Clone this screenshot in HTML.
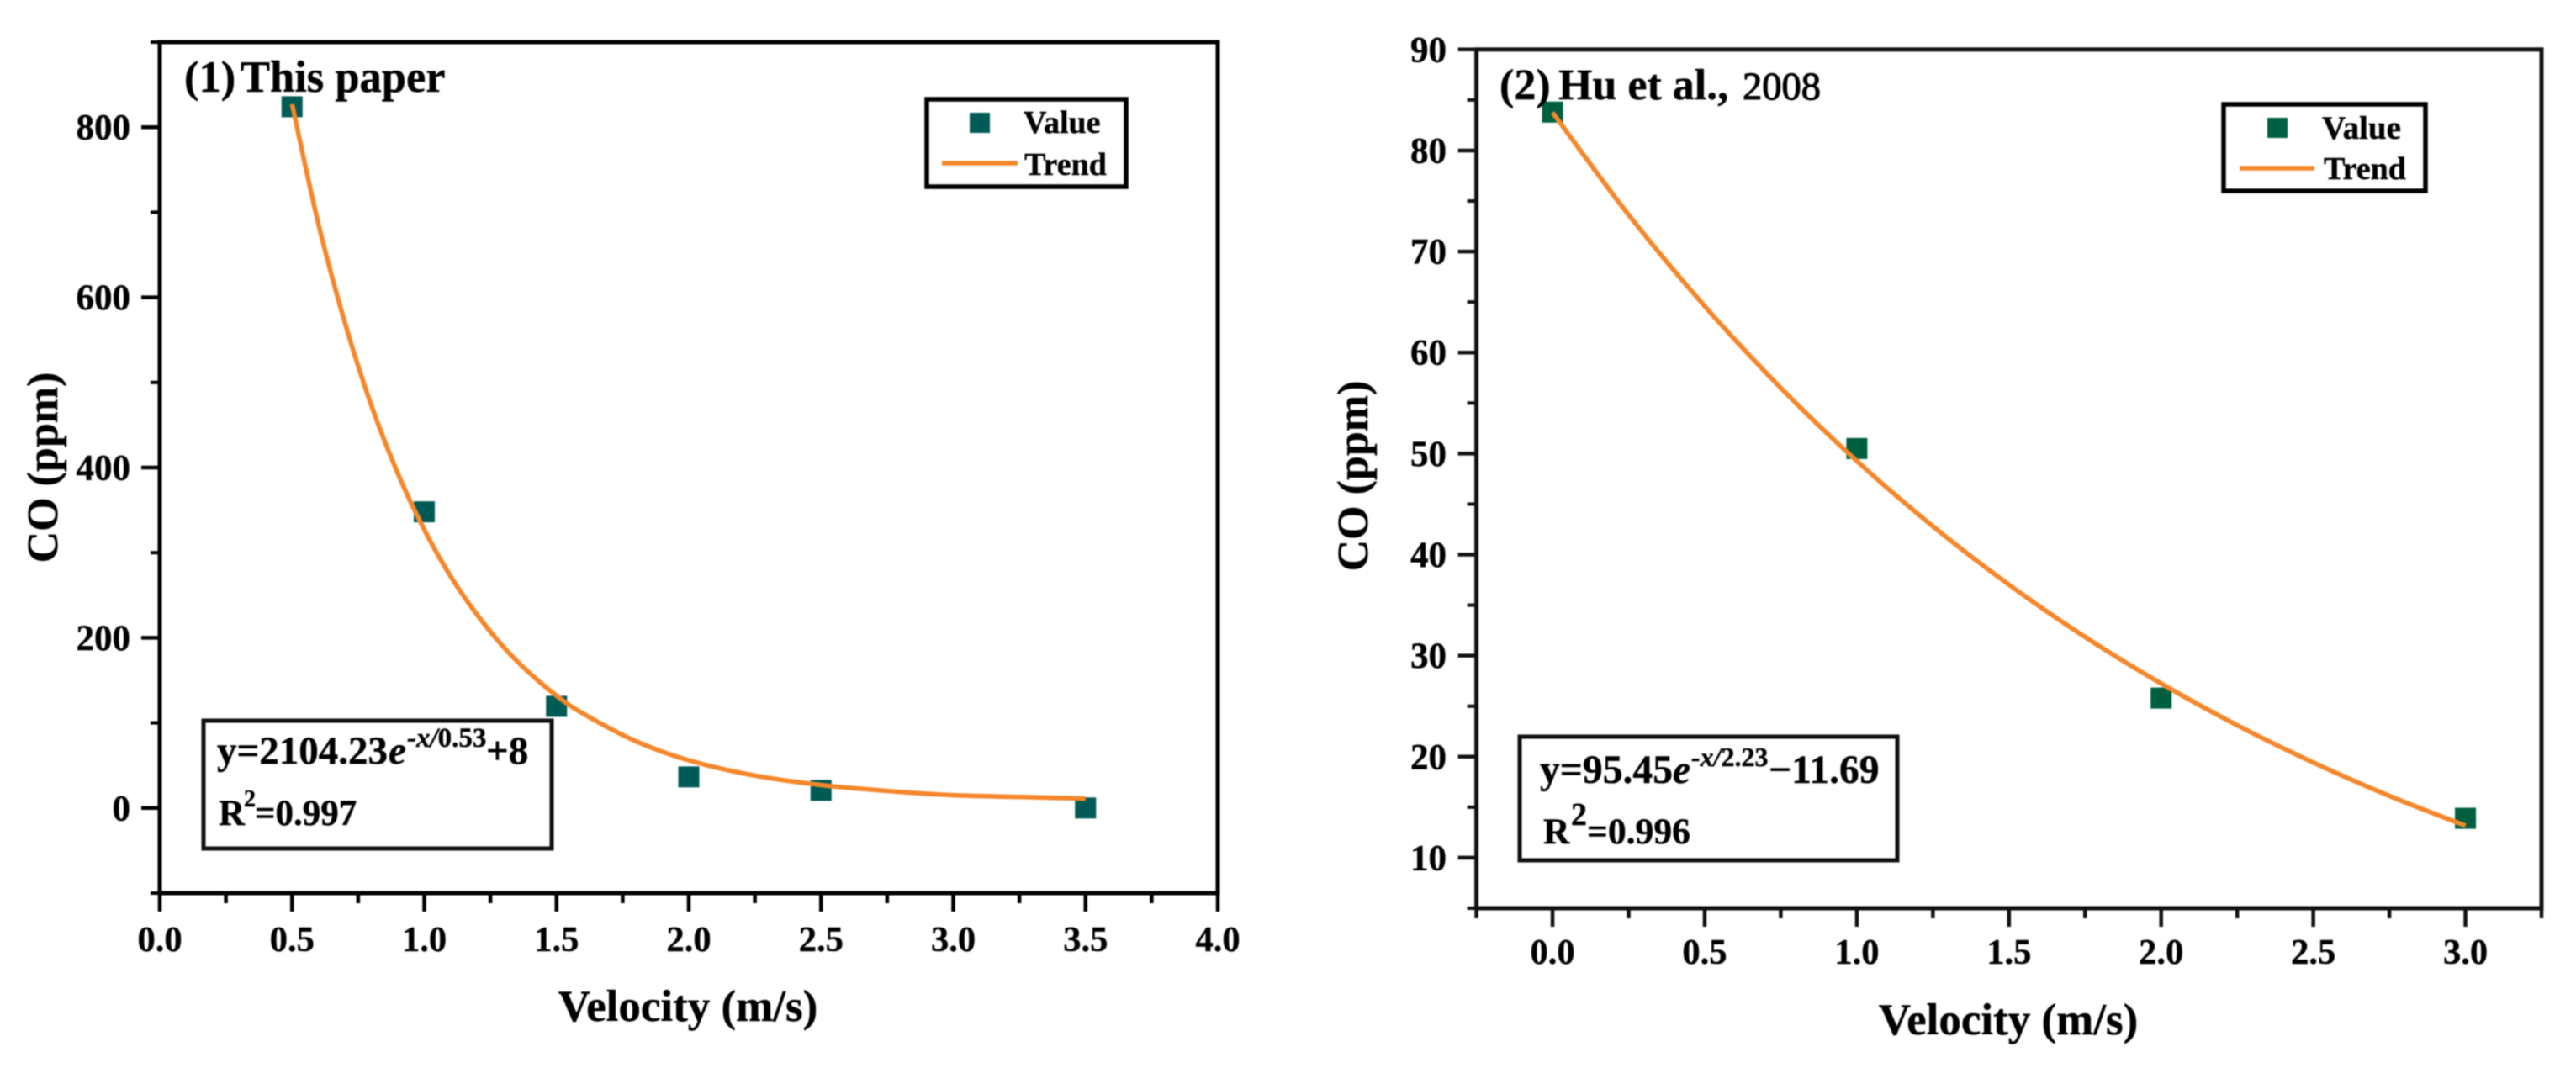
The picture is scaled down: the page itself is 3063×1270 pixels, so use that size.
<!DOCTYPE html>
<html lang="en">
<head>
<meta charset="utf-8">
<title>CO versus velocity charts</title>
<style>
  html, body { margin: 0; padding: 0; background: #fff; }
  body { width: 3063px; height: 1270px; overflow: hidden; }
  svg { display: block; filter: blur(0.8px); }
  text { font-family: "Liberation Serif", serif; font-weight: bold; fill: #000; stroke: #000; stroke-width: 0.4px; }
</style>
</head>
<body>
<svg id="figure" xmlns="http://www.w3.org/2000/svg" width="3063" height="1270" viewBox="0 0 3063 1270">
  <rect x="0" y="0" width="3063" height="1270" fill="#fff"/>

  <g id="panel-one"></g>
  <g id="panel-two"></g>

  <!-- Panel 1 static annotations -->
  <text y="109" font-size="52.5"><tspan x="219">(1)</tspan><tspan x="286">This paper</tspan></text>
  <text x="818" y="1214" font-size="53" text-anchor="middle">Velocity (m/s)</text>
  <text transform="translate(68 556) rotate(-90)" font-size="52" text-anchor="middle">CO (ppm)</text>

  <g>
    <rect x="1102" y="118" width="237" height="104" fill="#fff" stroke="#000" stroke-width="5.5"/>
    <rect x="1153" y="134" width="24" height="24" fill="#005b56"/>
    <line x1="1120" y1="194" x2="1210" y2="194" stroke="#f5862a" stroke-width="5.5"/>
    <text x="1217" y="158" font-size="38">Value</text>
    <text x="1218" y="208" font-size="38">Trend</text>
  </g>

  <g>
    <rect x="242" y="857" width="414" height="152" fill="#fff" stroke="#111" stroke-width="5"/>
    <text y="908" font-size="47"><tspan x="258">y=2104.23</tspan><tspan x="462" font-style="italic">e</tspan><tspan x="484" y="888" font-size="33" font-style="italic">-x/</tspan><tspan font-size="33" y="888">0.53</tspan><tspan x="578" y="908">+8</tspan></text>
    <text y="981" font-size="43"><tspan x="260">R</tspan><tspan x="290" y="959" font-size="28">2</tspan><tspan x="303" y="981">=0.997</tspan></text>
  </g>

  <!-- Panel 2 static annotations -->
  <text y="118" font-size="52"><tspan x="1783">(2)</tspan><tspan x="1853">Hu et al.,</tspan><tspan x="2072" font-size="46.5" font-weight="normal" stroke-width="1.1">2008</tspan></text>
  <text x="2388" y="1230" font-size="53" text-anchor="middle">Velocity (m/s)</text>
  <text transform="translate(1626 566) rotate(-90)" font-size="52" text-anchor="middle">CO (ppm)</text>

  <g>
    <rect x="2644" y="124" width="240" height="103" fill="#fff" stroke="#000" stroke-width="5.5"/>
    <rect x="2696" y="140" width="24" height="24" fill="#005f40"/>
    <line x1="2663" y1="200" x2="2752" y2="200" stroke="#f5862a" stroke-width="5.5"/>
    <text x="2761" y="165" font-size="39">Value</text>
    <text x="2763" y="213" font-size="38">Trend</text>
  </g>

  <g>
    <rect x="1807" y="876" width="449" height="147" fill="#fff" stroke="#111" stroke-width="5"/>
    <text y="931" font-size="47.6"><tspan x="1831">y=95.45</tspan><tspan x="1989" font-style="italic">e</tspan><tspan x="2011" y="911" font-size="32" font-style="italic">-x/</tspan><tspan font-size="32" y="911">2.23</tspan><tspan x="2103" y="931">&#8722;11.69</tspan></text>
    <text y="1003" font-size="43.6"><tspan x="1835">R</tspan><tspan x="1868" y="981" font-size="38">2</tspan><tspan x="1887" y="1003">=0.996</tspan></text>
  </g>
</svg>

<script>
// Panel 1 data: "This paper"
const velocityOne = [0.5, 1.0, 1.5, 2.0, 2.5, 3.5];
const coOne = [824, 348, 119.5, 36.5, 20.7, 0];
const trendVelocityOne = [0.5, 0.6, 0.7, 0.8, 0.9, 1.0, 1.1, 1.2, 1.3, 1.4, 1.5, 1.6, 1.8, 2.0, 2.25, 2.5, 2.75, 3.0, 3.25, 3.5];
const trendCoOne = [827, 686, 570, 473, 393, 327, 272, 227, 189, 158, 132, 111, 78.5, 56, 38, 27, 20, 15, 13, 11];
const xMajorOne = [0, 0.5, 1, 1.5, 2, 2.5, 3, 3.5, 4];
const xMinorOne = [0.25, 0.75, 1.25, 1.75, 2.25, 2.75, 3.25, 3.75];
const yMajorOne = [0, 200, 400, 600, 800];
const yMinorOne = [-100, 100, 300, 500, 700, 900];

// Panel 2 data: "Hu et al., 2008"
const velocityTwo = [0, 1, 2, 3];
const coTwo = [83.8, 50.5, 25.8, 13.9];
const trendVelocityTwo = [0, 0.25, 0.5, 0.75, 1, 1.25, 1.5, 1.75, 2, 2.25, 2.5, 2.75, 3];
const trendCoTwo = [83.76, 73.63, 64.59, 56.5, 49.26, 42.8, 37.02, 31.85, 27.24, 23.11, 19.42, 16.12, 13.17];
const xMajorTwo = [0, 0.5, 1, 1.5, 2, 2.5, 3];
const xMinorTwo = [-0.25, 0.25, 0.75, 1.25, 1.75, 2.25, 2.75, 3.25];
const yMajorTwo = [10, 20, 30, 40, 50, 60, 70, 80, 90];
const yMinorTwo = [5, 15, 25, 35, 45, 55, 65, 75, 85];

const SVG_NS = 'http://www.w3.org/2000/svg';

function linearScale(domain, range) {
  return function (v) {
    return range[0] + (v - domain[0]) / (domain[1] - domain[0]) * (range[1] - range[0]);
  };
}

function make(parent, tag, attrs) {
  const el = document.createElementNS(SVG_NS, tag);
  Object.keys(attrs).forEach(function (k) { el.setAttribute(k, attrs[k]); });
  parent.appendChild(el);
  return el;
}

function smoothPath(points) {
  let d = 'M' + points[0][0].toFixed(2) + ' ' + points[0][1].toFixed(2);
  for (let i = 0; i < points.length - 1; i++) {
    const p0 = points[Math.max(i - 1, 0)];
    const p1 = points[i];
    const p2 = points[i + 1];
    const p3 = points[Math.min(i + 2, points.length - 1)];
    const c1x = p1[0] + (p2[0] - p0[0]) / 6;
    const c1y = p1[1] + (p2[1] - p0[1]) / 6;
    const c2x = p2[0] - (p3[0] - p1[0]) / 6;
    const c2y = p2[1] - (p3[1] - p1[1]) / 6;
    d += 'C' + c1x.toFixed(2) + ' ' + c1y.toFixed(2) + ' ' + c2x.toFixed(2) + ' ' + c2y.toFixed(2) + ' ' + p2[0].toFixed(2) + ' ' + p2[1].toFixed(2);
  }
  return d;
}

function drawPanel(cfg) {
  const g = document.getElementById(cfg.id);
  const x = linearScale(cfg.xDomain, [cfg.left, cfg.right]);
  const y = linearScale(cfg.yDomain, [cfg.bottom, cfg.top]);
  const axisColor = cfg.axisColor;

  // y ticks
  cfg.yMinor.forEach(function (v) {
    const tick = make(g, 'line', { x1: cfg.left - 11, x2: cfg.left, y1: y(v), y2: y(v), stroke: axisColor, 'stroke-width': 4 });
    
    
  });
  cfg.yMajor.forEach(function (v) {
    const tick = make(g, 'line', { x1: cfg.left - 22, x2: cfg.left, y1: y(v), y2: y(v), stroke: axisColor, 'stroke-width': 4.5 });
    
    
    const label = make(g, 'text', { x: cfg.yLabelRight, y: y(v) + 14.5, 'font-size': 43, 'text-anchor': 'end' });
    label.textContent = String(v);
    
    
  });

  // x ticks
  cfg.xMinor.forEach(function (v) {
    const tick = make(g, 'line', { x1: x(v), x2: x(v), y1: cfg.bottom, y2: cfg.bottom + 12, stroke: axisColor, 'stroke-width': 4.5 });
    
    
  });
  cfg.xMajor.forEach(function (v) {
    const tick = make(g, 'line', { x1: x(v), x2: x(v), y1: cfg.bottom, y2: cfg.bottom + 22, stroke: axisColor, 'stroke-width': 4.5 });
    
    
    const label = make(g, 'text', { x: x(v), y: cfg.xLabelBaseline, 'font-size': 42.5, 'text-anchor': 'middle' });
    label.textContent = v.toFixed(1);
    
    
  });

  // plot frame
  const frame = make(g, 'rect', { x: cfg.left, y: cfg.top, width: cfg.right - cfg.left, height: cfg.bottom - cfg.top, fill: 'none', stroke: axisColor, 'stroke-width': 5 });
  
  

  // value markers
  cfg.pointX.forEach(function (v, i) {
    const marker = make(g, 'rect', { x: x(v) - 12.5, y: y(cfg.pointY[i]) - 12.5, width: 25, height: 25, fill: cfg.markerColor });
    
    
  });

  // trend line
  const pts = cfg.trendX.map(function (v, i) { return [x(v), y(cfg.trendY[i])]; });
  const trend = make(g, 'path', { d: smoothPath(pts), fill: 'none', stroke: '#f5862a', 'stroke-width': 5.5 });
  
  
}

drawPanel({
  id: 'panel-one',
  left: 190, right: 1448, top: 50, bottom: 1062,
  xDomain: [0, 4], yDomain: [-100, 900],
  yLabelRight: 155, xLabelBaseline: 1131,
  axisColor: '#000', markerColor: '#005b56',
  xMajor: xMajorOne, xMinor: xMinorOne, yMajor: yMajorOne, yMinor: yMinorOne,
  pointX: velocityOne, pointY: coOne, trendX: trendVelocityOne, trendY: trendCoOne
});

drawPanel({
  id: 'panel-two',
  left: 1755.6, right: 3022, top: 58.8, bottom: 1080,
  xDomain: [-0.25, 3.25], yDomain: [5, 90],
  yLabelRight: 1720, xLabelBaseline: 1146,
  axisColor: '#111', markerColor: '#005f40',
  xMajor: xMajorTwo, xMinor: xMinorTwo, yMajor: yMajorTwo, yMinor: yMinorTwo,
  pointX: velocityTwo, pointY: coTwo, trendX: trendVelocityTwo, trendY: trendCoTwo
});
</script>
</body>
</html>
